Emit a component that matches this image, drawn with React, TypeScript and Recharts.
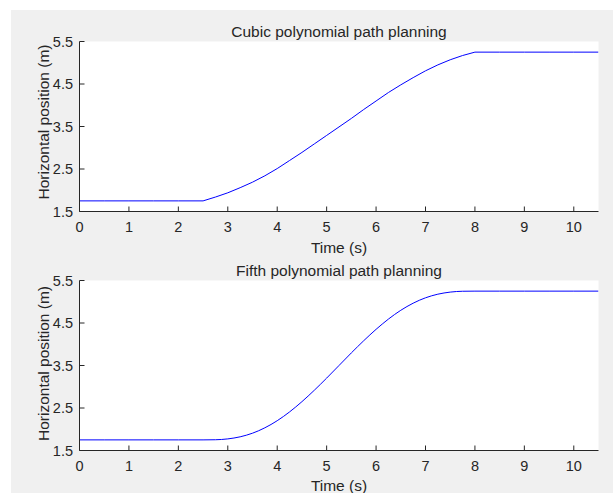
import { LineChart, Line, XAxis, YAxis, CartesianGrid } from "recharts";

// time samples (s)
const timeS = [
  0, 0.5, 1, 1.5, 2, 2.5, 2.75, 3, 3.25, 3.5, 3.75, 4, 4.25, 4.5, 4.75, 5, 5.25, 5.5, 5.75, 6, 6.25, 6.5,
  6.75, 7, 7.25, 7.5, 7.75, 8, 8.5, 9, 9.5, 10, 10.5,
];

// cubic polynomial path (m)
const cubicPos = [
  1.75, 1.75, 1.75, 1.75, 1.75, 1.75, 1.84, 1.94, 2.06, 2.19, 2.34, 2.51, 2.7, 2.89, 3.09, 3.29, 3.49, 3.69,
  3.9, 4.1, 4.3, 4.48, 4.65, 4.81, 4.95, 5.07, 5.17, 5.25, 5.25, 5.25, 5.25, 5.25, 5.25,
];

// fifth order polynomial path (m)
const fifthPos = [
  1.75, 1.75, 1.75, 1.75, 1.75, 1.75, 1.753, 1.773, 1.822, 1.907, 2.034, 2.201, 2.408, 2.649, 2.917, 3.203,
  3.5, 3.797, 4.083, 4.351, 4.592, 4.799, 4.966, 5.093, 5.178, 5.227, 5.247, 5.25, 5.25, 5.25, 5.25, 5.25,
  5.25,
];

const xTicks = [0, 1, 2, 3, 4, 5, 6, 7, 8, 9, 10];
const yTicks = [1.5, 2.5, 3.5, 4.5, 5.5];

const FONT = "'Liberation Sans', Arial, sans-serif";
const AXIS = "#262626";
const FS = 14.5;

function PathPlot({
  values,
  top,
  plotTop,
  curve,
}: {
  values: number[];
  top: number;
  plotTop: number;
  curve: "linear" | "monotone";
}) {
  const data = timeS.map((t, i) => ({ t, pos: values[i] }));
  const h = 240;
  const plotH = 170;
  const tickStyle = { fill: AXIS, fontSize: FS, fontFamily: FONT };
  return (
    <div style={{ position: "absolute", left: 0, top, width: 613, height: h }}>
      <LineChart
        width={613}
        height={h}
        data={data}
        margin={{ top: plotTop, right: 14.5, bottom: 0, left: 29.5 }}
      >
        <CartesianGrid fill="#ffffff" horizontal={false} vertical={false} />
        <XAxis
          dataKey="t"
          type="number"
          domain={[0, 10.5]}
          ticks={xTicks}
          allowDataOverflow
          height={h - plotTop - plotH}
          stroke={AXIS}
          tickSize={-5}
          tickMargin={15}
          tick={tickStyle}
        />
        <XAxis
          xAxisId="top"
          orientation="top"
          dataKey="t"
          type="number"
          domain={[0, 10.5]}
          ticks={xTicks}
          allowDataOverflow
          height={0}
          stroke={AXIS}
          tickSize={-5}
          tick={false}
        />
        <YAxis
          type="number"
          domain={[1.5, 5.5]}
          ticks={yTicks}
          allowDataOverflow
          width={50}
          stroke={AXIS}
          tickSize={-5}
          tickMargin={11.5}
          tick={tickStyle}
        />
        <YAxis
          yAxisId="right"
          orientation="right"
          type="number"
          domain={[1.5, 5.5]}
          ticks={yTicks}
          allowDataOverflow
          width={0}
          stroke={AXIS}
          tickSize={-5}
          tick={false}
        />
        <Line
          type={curve}
          dataKey="pos"
          stroke="#0000ff"
          strokeWidth={1}
          dot={false}
          isAnimationActive={false}
        />
      </LineChart>
    </div>
  );
}

export default function App() {
  const text = { fontFamily: FONT, fontSize: 15.5, fill: AXIS };
  return (
    <div style={{ position: "absolute", left: 0, top: 0, width: 613, height: 493, background: "#ffffff", overflow: "hidden" }}>
      <div style={{ position: "absolute", left: 11, top: 10, right: 0, bottom: 0, background: "#f0f0f0" }} />
      <PathPlot values={cubicPos} top={0} plotTop={41.5} curve="linear" />
      <PathPlot values={fifthPos} top={240} plotTop={40.5} curve="monotone" />
      <svg width={613} height={493} style={{ position: "absolute", left: 0, top: 0, pointerEvents: "none" }}>
        <text x={339} y={36.5} textAnchor="middle" {...text}>
          Cubic polynomial path planning
        </text>
        <text x={339} y={252.5} textAnchor="middle" {...text}>
          Time (s)
        </text>
        <text x={48.5} y={122} textAnchor="middle" transform="rotate(-90 48.5 122)" {...text}>
          Horizontal position (m)
        </text>
        <text x={339} y={275.5} textAnchor="middle" {...text}>
          Fifth polynomial path planning
        </text>
        <text x={339} y={490.5} textAnchor="middle" {...text}>
          Time (s)
        </text>
        <text x={48.5} y={363.5} textAnchor="middle" transform="rotate(-90 48.5 363.5)" {...text}>
          Horizontal position (m)
        </text>
      </svg>
    </div>
  );
}
